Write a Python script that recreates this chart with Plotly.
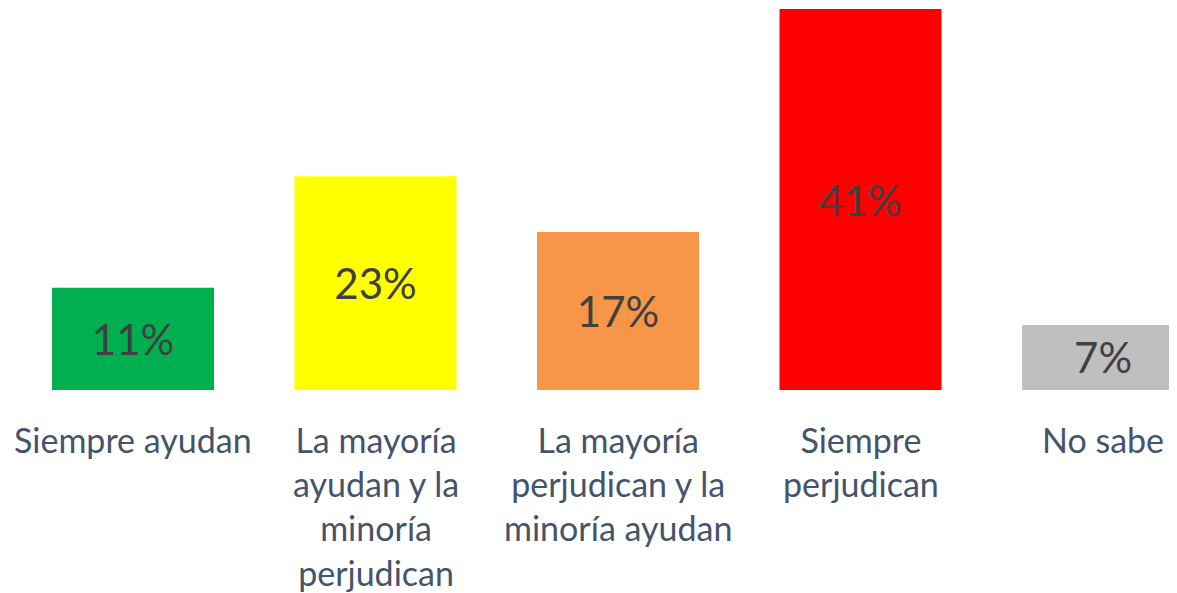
import plotly.graph_objects as go

# survey answers and their shares (%)
categorias = ["Siempre ayudan",
              "La mayoría<br>ayudan y la<br>minoría<br>perjudican",
              "La mayoría<br>perjudican y la<br>minoría ayudan",
              "Siempre<br>perjudican",
              "No sabe"]
valores = [11, 23, 17, 41, 7]
etiquetas = ["11%", "23%", "17%", "41%", "7%"]
colores = ["#00B050", "#FFFF00", "#F79646", "#FF0000", "#BFBFBF"]

x_pos = list(range(len(categorias)))

fig = go.Figure()
fig.add_trace(go.Bar(
    x=x_pos, y=valores, text=etiquetas,
    marker=dict(color=colores, line=dict(width=0)),
    textposition="inside", insidetextanchor="middle",
    textfont=dict(family="Lato", size=42, color="#404040"),
    width=0.668, hoverinfo="skip",
))

# category labels under each bar
for i, cat in enumerate(categorias):
    fig.add_annotation(x=i, y=-2.9, xref="x", yref="y", text=cat, showarrow=False,
                       yanchor="top", xanchor="center", align="center",
                       font=dict(family="Lato", size=34, color="#44546A"))

# the page body adds an 8px margin, so the figure is 8px smaller than the window
fig.update_layout(
    width=1169, height=585,
    margin=dict(l=0, r=0, t=0, b=0),
    paper_bgcolor="white", plot_bgcolor="white",
    showlegend=False,
    xaxis=dict(range=[-0.5155, 4.305], visible=False, fixedrange=True),
    yaxis=dict(range=[-21.85, 41.12], visible=False, fixedrange=True),
)

fig.write_html("out.html")
